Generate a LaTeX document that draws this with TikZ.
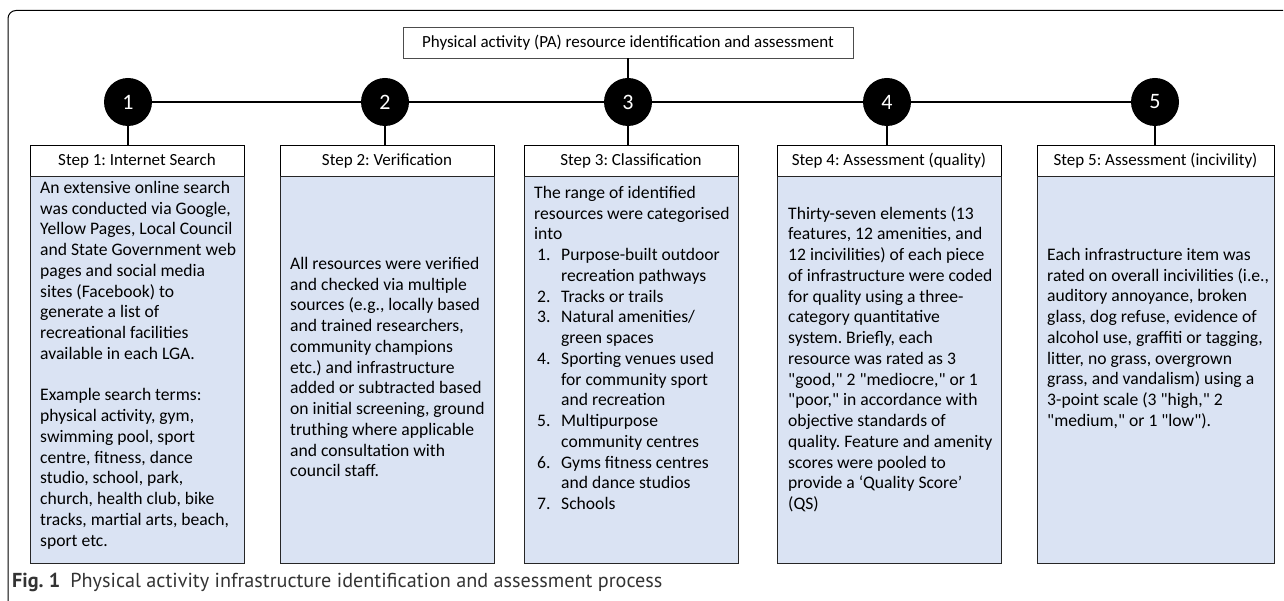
\documentclass[tikz,border=0pt]{standalone}
\usepackage{fontspec}
\setmainfont{Carlito}
\newfontfamily\capfont{PT Sans}
\usetikzlibrary{positioning}
\definecolor{boxblue}{HTML}{DAE3F3}
\tikzset{
  stepnum/.style={circle,fill=black,minimum size=48pt,inner sep=0pt,text=white,font=\fontsize{22}{24}\selectfont},
  stephead/.style={draw=black,fill=white,line width=0.9pt,minimum height=31pt,inner sep=0pt,font=\fontsize{17}{20}\selectfont},
  stepbody/.style={draw=black!85,fill=boxblue,line width=0.9pt,minimum height=387pt,inner sep=0pt},
  bodytext/.style={anchor=north west,inner sep=0pt,align=left,font=\fontsize{17.6}{20.75}\selectfont},
  link/.style={line width=1.2pt}
}
\newcommand{\listnum}[1]{\hspace*{3pt}\makebox[24pt][l]{#1}}
\newcommand{\listcont}{\hspace*{27pt}}
\newcommand{\qt}[1]{\textquotedbl#1\textquotedbl}
\frenchspacing
\begin{document}
\begin{tikzpicture}[x=1pt,y=-1pt]
  \useasboundingbox (0,0) rectangle (1284,601);
  \draw[line width=1pt,rounded corners=8pt] (1283,10.5) -- (8,10.5) -- (8,601);
  \node[draw=black!70,line width=0.9pt,minimum width=450pt,minimum height=31pt,inner sep=0pt,font=\fontsize{17}{20}\selectfont] (title) at (628,42.5) {Physical activity (PA) resource identification and assessment};

  \node[stepnum] (c1) at (128,102) {1};
  \node[stepnum] (c2) at (385,102) {2};
  \node[stepnum] (c3) at (628,102) {3};
  \node[stepnum] (c4) at (887,102) {4};
  \node[stepnum] (c5) at (1155,102) {5};

  \node[stephead,minimum width=214pt] (h1) at (137,160.5) {Step 1: Internet Search};
  \node[stephead,minimum width=214pt] (h2) at (387,160.5) {Step 2: Verification};
  \node[stephead,minimum width=214pt] (h3) at (631,160.5) {Step 3: Classification};
  \node[stephead,minimum width=224pt] (h4) at (889,160.5) {Step 4: Assessment (quality)};
  \node[stephead,minimum width=237pt] (h5) at (1155.5,160.5) {Step 5: Assessment (incivility)};

  \node[stepbody,minimum width=214pt,below=0pt of h1] (b1) {};
  \node[stepbody,minimum width=214pt,below=0pt of h2] (b2) {};
  \node[stepbody,minimum width=214pt,below=0pt of h3] (b3) {};
  \node[stepbody,minimum width=224pt,below=0pt of h4] (b4) {};
  \node[stepbody,minimum width=237pt,below=0pt of h5] (b5) {};

  \draw[link] (c1) -- (c2) -- (c3) -- (c4) -- (c5);
  \draw[link] (title) -- (c3);
  \draw[link] (c1) -- (c1 |- h1.north);
  \draw[link] (c2) -- (c2 |- h2.north);
  \draw[link] (c3) -- (c3 |- h3.north);
  \draw[link] (c4) -- (c4 |- h4.north);
  \draw[link] (c5) -- (c5 |- h5.north);

  \node[bodytext] (t1) at (40,181) {An extensive online search\\
    was conducted via Google,\\
    Yellow Pages, Local Council\\
    and State Government web\\
    pages and social media\\
    sites (Facebook) to\\
    generate a list of\\
    recreational facilities\\
    available in each LGA.\\[20.75pt]
    Example search terms:\\
    physical activity, gym,\\
    swimming pool, sport\\
    centre, fitness, dance\\
    studio, school, park,\\
    church, health club, bike\\
    tracks, martial arts, beach,\\
    sport etc.};
  \node[bodytext] (t2) at (290,257) {All resources were verified\\
    and checked via multiple\\
    sources (e.g., locally based\\
    and trained researchers,\\
    community champions\\
    etc.) and infrastructure\\
    added or subtracted based\\
    on initial screening, ground\\
    truthing where applicable\\
    and consultation with\\
    council staff.};
  \node[bodytext] (t3) at (534,186) {The range of identified\\
    resources were categorised\\
    into\\
    \listnum{1.}Purpose-built outdoor\\
    \listcont recreation pathways\\
    \listnum{2.}Tracks or trails\\
    \listnum{3.}Natural amenities/\\
    \listcont green spaces\\
    \listnum{4.}Sporting venues used\\
    \listcont for community sport\\
    \listcont and recreation\\
    \listnum{5.}Multipurpose\\
    \listcont community centres\\
    \listnum{6.}Gyms fitness centres\\
    \listcont and dance studios\\
    \listnum{7.}Schools};
  \node[bodytext] (t4) at (788,206) {Thirty-seven elements (13\\
    features, 12 amenities, and\\
    12 incivilities) of each piece\\
    of infrastructure were coded\\
    for quality using a three-\\
    category quantitative\\
    system. Briefly, each\\
    resource was rated as 3\\
    \qt{good,} 2 \qt{mediocre,} or 1\\
    \qt{poor,} in accordance with\\
    objective standards of\\
    quality. Feature and amenity\\
    scores were pooled to\\
    provide a ‘Quality Score’\\
    (QS)};
  \node[bodytext] (t5) at (1047,248) {Each infrastructure item was\\
    rated on overall incivilities (i.e.,\\
    auditory annoyance, broken\\
    glass, dog refuse, evidence of\\
    alcohol use, graffiti or tagging,\\
    litter, no grass, overgrown\\
    grass, and vandalism) using a\\
    3-point scale (3 \qt{high,} 2\\
    \qt{medium,} or 1 \qt{low}).};

  \node[anchor=base west,inner sep=0pt,text=black!80,font=\capfont\fontsize{20.2}{22}\selectfont] (caption) at (12,587) {\textbf{Fig. 1}\hspace{0.5em}Physical activity infrastructure identification and assessment process};
\end{tikzpicture}
\end{document}
